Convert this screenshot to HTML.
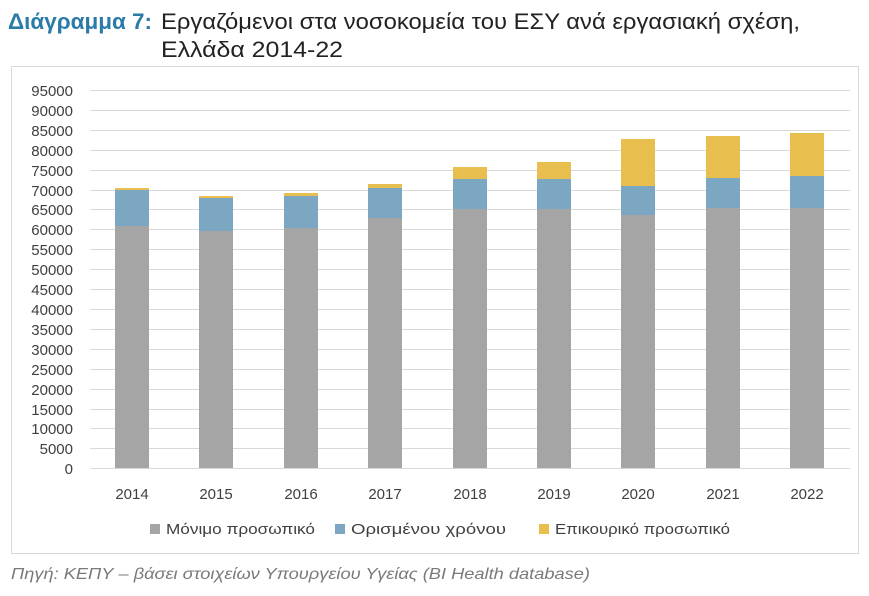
<!DOCTYPE html>
<html><head><meta charset="utf-8"><style>
body{margin:0;background:#fff;width:869px;height:591px;overflow:hidden;font-family:"Liberation Sans",sans-serif}
</style></head><body>
<svg width="869" height="591" xmlns="http://www.w3.org/2000/svg" font-family="Liberation Sans, sans-serif">
<text x="8" y="29" font-size="22" fill="#2a7ba8" font-weight="bold" textLength="144" lengthAdjust="spacingAndGlyphs">Διάγραμμα 7:</text>
<text x="161" y="29" font-size="22" fill="#222" textLength="639" lengthAdjust="spacingAndGlyphs">Εργαζόμενοι στα νοσοκομεία του ΕΣΥ ανά εργασιακή σχέση,</text>
<text x="161" y="57" font-size="22" fill="#222" textLength="182" lengthAdjust="spacingAndGlyphs">Ελλάδα 2014-22</text>
<rect x="11.5" y="66.5" width="847" height="487" fill="#fff" stroke="#d9d9d9"/>
<g stroke="#d9d9d9" stroke-width="1">
<line x1="90" x2="850" y1="90.5" y2="90.5"/><line x1="90" x2="850" y1="110.5" y2="110.5"/><line x1="90" x2="850" y1="130.5" y2="130.5"/><line x1="90" x2="850" y1="150.5" y2="150.5"/><line x1="90" x2="850" y1="170.5" y2="170.5"/><line x1="90" x2="850" y1="190.5" y2="190.5"/><line x1="90" x2="850" y1="209.5" y2="209.5"/><line x1="90" x2="850" y1="229.5" y2="229.5"/><line x1="90" x2="850" y1="249.5" y2="249.5"/><line x1="90" x2="850" y1="269.5" y2="269.5"/><line x1="90" x2="850" y1="289.5" y2="289.5"/><line x1="90" x2="850" y1="309.5" y2="309.5"/><line x1="90" x2="850" y1="329.5" y2="329.5"/><line x1="90" x2="850" y1="349.5" y2="349.5"/><line x1="90" x2="850" y1="369.5" y2="369.5"/><line x1="90" x2="850" y1="389.5" y2="389.5"/><line x1="90" x2="850" y1="409.5" y2="409.5"/><line x1="90" x2="850" y1="428.5" y2="428.5"/><line x1="90" x2="850" y1="448.5" y2="448.5"/><line x1="90" x2="850" y1="468.5" y2="468.5"/>
</g>
<g font-size="15" fill="#404040" text-anchor="end">
<text x="73" y="96">95000</text><text x="73" y="116">90000</text><text x="73" y="136">85000</text><text x="73" y="156">80000</text><text x="73" y="176">75000</text><text x="73" y="196">70000</text><text x="73" y="215">65000</text><text x="73" y="235">60000</text><text x="73" y="255">55000</text><text x="73" y="275">50000</text><text x="73" y="295">45000</text><text x="73" y="315">40000</text><text x="73" y="335">35000</text><text x="73" y="355">30000</text><text x="73" y="375">25000</text><text x="73" y="395">20000</text><text x="73" y="415">15000</text><text x="73" y="434">10000</text><text x="73" y="454">5000</text><text x="73" y="474">0</text>
</g>
<g>
<rect x="115" y="226" width="34" height="242" fill="#a5a5a5"/><rect x="115" y="190" width="34" height="36" fill="#7ba7c2"/><rect x="115" y="188" width="34" height="2" fill="#e8bf4f"/>
<rect x="199" y="231" width="34" height="237" fill="#a5a5a5"/><rect x="199" y="198" width="34" height="33" fill="#7ba7c2"/><rect x="199" y="196" width="34" height="2" fill="#e8bf4f"/>
<rect x="284" y="228" width="34" height="240" fill="#a5a5a5"/><rect x="284" y="196" width="34" height="32" fill="#7ba7c2"/><rect x="284" y="193" width="34" height="3" fill="#e8bf4f"/>
<rect x="368" y="218" width="34" height="250" fill="#a5a5a5"/><rect x="368" y="188" width="34" height="30" fill="#7ba7c2"/><rect x="368" y="184" width="34" height="4" fill="#e8bf4f"/>
<rect x="453" y="209" width="34" height="259" fill="#a5a5a5"/><rect x="453" y="179" width="34" height="30" fill="#7ba7c2"/><rect x="453" y="167" width="34" height="12" fill="#e8bf4f"/>
<rect x="537" y="209" width="34" height="259" fill="#a5a5a5"/><rect x="537" y="179" width="34" height="30" fill="#7ba7c2"/><rect x="537" y="162" width="34" height="17" fill="#e8bf4f"/>
<rect x="621" y="215" width="34" height="253" fill="#a5a5a5"/><rect x="621" y="186" width="34" height="29" fill="#7ba7c2"/><rect x="621" y="139" width="34" height="47" fill="#e8bf4f"/>
<rect x="706" y="208" width="34" height="260" fill="#a5a5a5"/><rect x="706" y="178" width="34" height="30" fill="#7ba7c2"/><rect x="706" y="136" width="34" height="42" fill="#e8bf4f"/>
<rect x="790" y="208" width="34" height="260" fill="#a5a5a5"/><rect x="790" y="176" width="34" height="32" fill="#7ba7c2"/><rect x="790" y="133" width="34" height="43" fill="#e8bf4f"/>
</g>
<g font-size="15" fill="#404040" text-anchor="middle">
<text x="132" y="499">2014</text><text x="216" y="499">2015</text><text x="301" y="499">2016</text><text x="385" y="499">2017</text><text x="470" y="499">2018</text><text x="554" y="499">2019</text><text x="638" y="499">2020</text><text x="723" y="499">2021</text><text x="807" y="499">2022</text>
</g>
<g font-size="15" fill="#404040">
<rect x="150" y="524" width="10" height="10" fill="#a5a5a5"/><text x="166" y="534" textLength="149" lengthAdjust="spacingAndGlyphs">Μόνιμο προσωπικό</text>
<rect x="335" y="524" width="10" height="10" fill="#7ba7c2"/><text x="351" y="534" textLength="155" lengthAdjust="spacingAndGlyphs">Ορισμένου χρόνου</text>
<rect x="539" y="524" width="10" height="10" fill="#e8bf4f"/><text x="555" y="534" textLength="175" lengthAdjust="spacingAndGlyphs">Επικουρικό προσωπικό</text>
</g>
<text x="11" y="579" font-size="16" font-style="italic" fill="#7a7a7a" textLength="579" lengthAdjust="spacingAndGlyphs">Πηγή: ΚΕΠΥ – βάσει στοιχείων Υπουργείου Υγείας (BI Health database)</text>
</svg>
</body></html>
